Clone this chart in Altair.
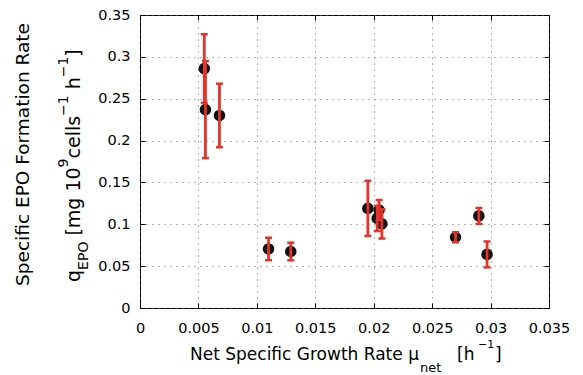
import altair as alt
import pandas as pd

# ---- data ----
mu_net = [0.0055, 0.0056, 0.0068, 0.0110, 0.0129, 0.0195, 0.02046, 0.0203, 0.0207, 0.0270, 0.0290, 0.0297]
q_epo = [0.286, 0.237, 0.230, 0.0705, 0.0675, 0.119, 0.117, 0.107, 0.1005, 0.0845, 0.110, 0.064]
q_err = [0.041, 0.058, 0.038, 0.0135, 0.0105, 0.033, 0.012, 0.015, 0.0175, 0.006, 0.0095, 0.0155]
x_ticks = [0, 0.005, 0.01, 0.015, 0.02, 0.025, 0.03, 0.035]
y_ticks = [0, 0.05, 0.1, 0.15, 0.2, 0.25, 0.3, 0.35]

df = pd.DataFrame({"mu": mu_net, "q": q_epo, "err": q_err})
df["lo"] = df["q"] - df["err"]
df["hi"] = df["q"] + df["err"]

FONT = "DejaVu Sans"
RED = "#e3342a"

xs = alt.Scale(domain=[0, 0.035], nice=False, zero=False)
ys = alt.Scale(domain=[0, 0.35], nice=False, zero=False)

x_bottom = alt.Axis(orient="bottom", values=x_ticks, format="~g", title=None, grid=True,
                    gridDash=[1, 5], gridColor="#666", gridOpacity=1, domain=False,
                    tickSize=5, tickColor="black", offset=-5, labelPadding=13,
                    labelFlush=False, labelOverlap=False,
                    labelFont=FONT, labelFontSize=14.5, labelColor="black")
y_left = alt.Axis(orient="left", values=y_ticks, format="~g", title=None, grid=True,
                  gridDash=[1, 5], gridColor="#666", gridOpacity=1, domain=False,
                  tickSize=5, tickColor="black", offset=-5, labelPadding=10,
                  labelFlush=False, labelOverlap=False,
                  labelFont=FONT, labelFontSize=14.5, labelColor="black")
x_top = alt.Axis(orient="top", values=x_ticks, title=None, grid=False, labels=False,
                 domain=False, tickSize=5, tickColor="black", offset=-5)
y_right = alt.Axis(orient="right", values=y_ticks, title=None, grid=False, labels=False,
                   domain=False, tickSize=5, tickColor="black", offset=-5)

base = alt.Chart(df)

points = base.mark_circle(size=135, color="#111111", opacity=1).encode(
    x=alt.X("mu:Q", scale=xs, axis=x_bottom),
    y=alt.Y("q:Q", scale=ys, axis=y_left),
)

bars = base.mark_rule(color=RED, strokeWidth=2.8).encode(
    x=alt.X("mu:Q", scale=xs, axis=x_top),
    y=alt.Y("lo:Q", scale=ys, axis=y_right),
    y2="hi:Q",
)

cap_lo = base.mark_tick(color=RED, orient="horizontal", size=7, thickness=2.5, opacity=1).encode(
    x=alt.X("mu:Q", scale=xs, axis=None),
    y=alt.Y("lo:Q", scale=ys, axis=None),
)
cap_hi = base.mark_tick(color=RED, orient="horizontal", size=7, thickness=2.5, opacity=1).encode(
    x=alt.X("mu:Q", scale=xs, axis=None),
    y=alt.Y("hi:Q", scale=ys, axis=None),
)


def txt(s, x, y, size, angle=0, align="left"):
    kw = dict(font=FONT, fontSize=size, color="black", align=align, baseline="alphabetic")
    if angle:
        kw["angle"] = angle
    return alt.Chart(pd.DataFrame({"t": [s]})).mark_text(**kw).encode(
        x=alt.value(x), y=alt.value(y), text="t:N")


# x-axis title with subscript / superscript
x_title = [
    txt("Net Specific Growth Rate μ", 50, 345, 17),
    txt("net", 280, 356.5, 13),
    txt("[h", 317, 345, 17),
    txt("−1", 338, 333, 11),
    txt("]", 355, 345, 17),
]

# y-axis title (two lines, rotated)
MB, SB, PB = -60, -52, -72
y_title = [
    txt("Specific EPO Formation Rate", -111.5, 139.5, 18.5, angle=270, align="center"),
    txt("q", MB, 267, 19, angle=270),
    txt("EPO", SB, 254.9, 14, angle=270),
    txt("[mg 10", MB, 220.6, 19, angle=270),
    txt("9", PB, 152.4, 14, angle=270),
    txt("cells", MB, 143.5, 19, angle=270),
    txt("−1", PB, 100.9, 14, angle=270),
    txt("h", MB, 74.3, 19, angle=270),
    txt("−1", PB, 62.3, 14, angle=270),
    txt("]", MB, 41.7, 19, angle=270),
]

chart = alt.layer(points, bars, cap_lo, cap_hi, *x_title, *y_title).resolve_axis(
    x="independent", y="independent"
).properties(
    width=409, height=293,
    padding={"left": 140, "top": 15, "right": 34, "bottom": 67},
    autosize=alt.AutoSizeParams(type="none"),
    background="white",
).configure_view(stroke="black", strokeWidth=1)

chart.save("out.html", embed_options={"renderer": "svg", "actions": False})
